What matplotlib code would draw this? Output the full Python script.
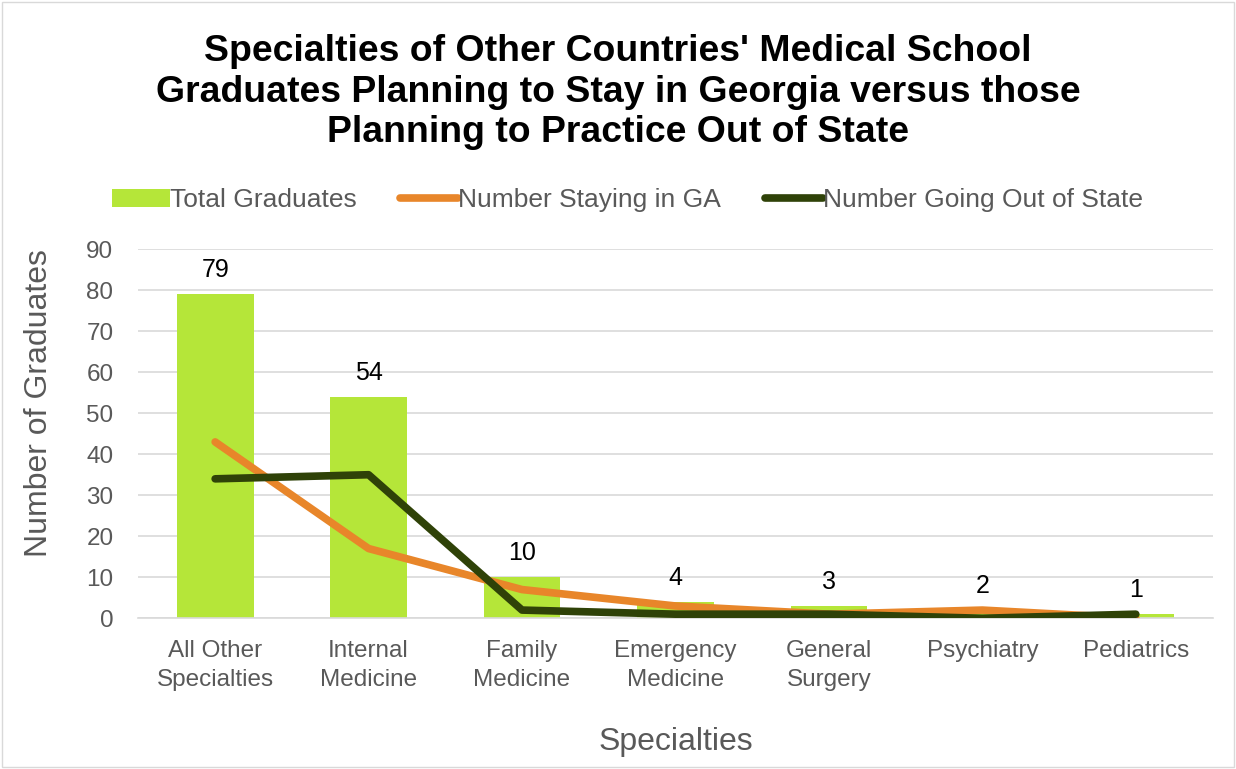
import numpy as np
import matplotlib.pyplot as plt

plt.rcParams['font.family'] = ['Liberation Sans', 'DejaVu Sans']

categories = ['All Other\nSpecialties', 'Internal\nMedicine', 'Family\nMedicine',
              'Emergency\nMedicine', 'General\nSurgery', 'Psychiatry', 'Pediatrics']
total = [79, 54, 10, 4, 3, 2, 1]
staying_ga = [43, 17, 7, 3, 1, 2, 0]
out_of_state = [34, 35, 2, 1, 1, 0, 1]

fig = plt.figure(figsize=(12.36, 7.69), dpi=100)
ax = fig.add_axes([0.112, 0.196, 0.869, 0.48])

x = np.arange(len(categories))
bars = ax.bar(x, total, width=0.5, color='#b5e639', label='Total Graduates', zorder=2)
l1, = ax.plot(x, staying_ga, color='#e8862a', lw=5.5, solid_capstyle='round',
              label='Number Staying in GA', zorder=3)
l2, = ax.plot(x, out_of_state, color='#2f4208', lw=5.5, solid_capstyle='round',
              label='Number Going Out of State', zorder=4)

for xi, v in zip(x, total):
    ax.text(xi, v + 3, str(v), ha='center', va='bottom', fontsize=18, color='black')

ax.set_xlim(-0.5, 6.5)
ax.set_ylim(0, 90)
ax.set_yticks(range(0, 91, 10))
ax.set_xticks(x)
ax.set_xticklabels(categories, linespacing=1.4)
ax.tick_params(axis='both', length=0, labelsize=17.5, colors='#595959')
ax.tick_params(axis='y', pad=18)
ax.tick_params(axis='x', pad=16)
ax.yaxis.grid(True, color='#d9d9d9', lw=1.2, zorder=0)
for s in ['top', 'right', 'left']:
    ax.spines[s].set_visible(False)
ax.spines['bottom'].set_color('#d9d9d9')
ax.spines['bottom'].set_linewidth(1.2)

ax.set_ylabel('Number of Graduates', fontsize=23, color='#595959')
ax.yaxis.set_label_coords(-0.079, 0.583)
ax.set_xlabel('Specialties', fontsize=23, color='#595959', labelpad=26)

fig.suptitle("Specialties of Other Countries' Medical School\n"
             "Graduates Planning to Stay in Georgia versus those\n"
             "Planning to Practice Out of State",
             fontsize=26.9, fontweight='bold', y=0.956, linespacing=1.21)

ax.legend([bars, l1, l2], ['Total Graduates', 'Number Staying in GA', 'Number Going Out of State'],
          loc='lower center', bbox_to_anchor=(0.455, 1.035), ncol=3, frameon=False,
          fontsize=19, labelcolor='#595959', handlelength=2.2, handletextpad=0.0,
          columnspacing=1.65)

fig.patches.append(plt.Rectangle((0.002, 0.002), 0.996, 0.996, transform=fig.transFigure,
                                 fill=False, edgecolor='#d9d9d9', lw=1))

fig.savefig('out.png', dpi=100)
